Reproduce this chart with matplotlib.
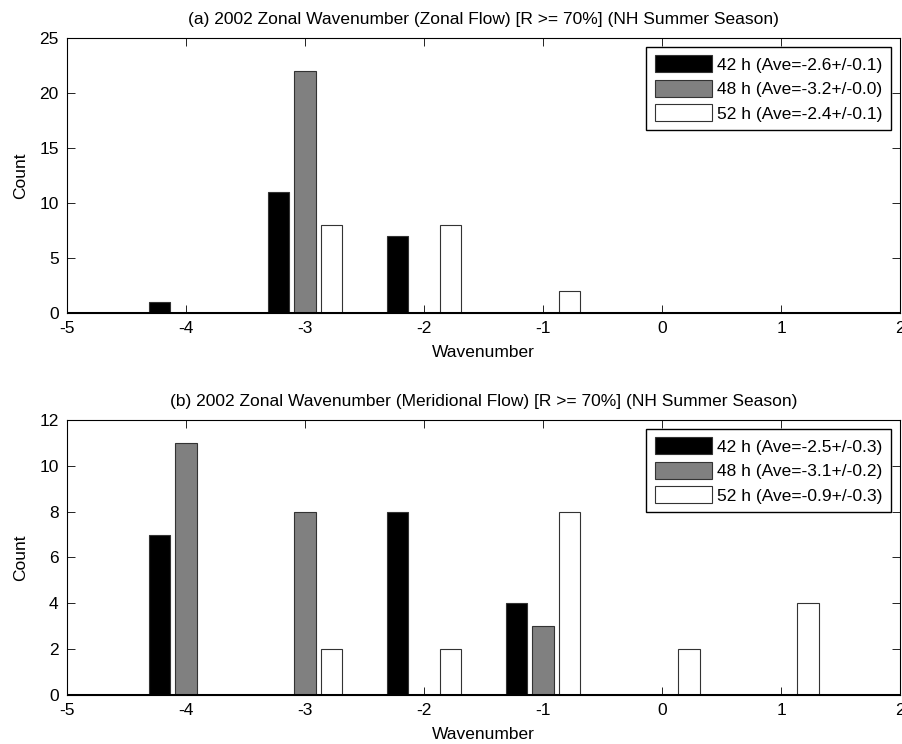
import matplotlib
matplotlib.use('Agg')
import matplotlib.pyplot as plt
import numpy as np

plt.rcParams['font.family'] = ['Liberation Sans', 'DejaVu Sans']
plt.rcParams['font.size'] = 12.5
plt.rcParams['axes.unicode_minus'] = False

wavenumbers = [-4, -3, -2, -1, 0, 1]
series_names = ['42 h', '48 h', '52 h']
colors = ['black', '#808080', 'white']

# panel (a) zonal flow
counts_a = [[1, 11, 7, 0, 0, 0],
            [0, 22, 0, 0, 0, 0],
            [0, 8, 8, 2, 0, 0]]
aves_a = ['(Ave=-2.6+/-0.1)', '(Ave=-3.2+/-0.0)', '(Ave=-2.4+/-0.1)']
title_a = '(a) 2002 Zonal Wavenumber (Zonal Flow) [R >= 70%] (NH Summer Season)'

# panel (b) meridional flow
counts_b = [[7, 0, 8, 4, 0, 0],
            [11, 8, 0, 3, 0, 0],
            [0, 2, 2, 8, 2, 4]]
aves_b = ['(Ave=-2.5+/-0.3)', '(Ave=-3.1+/-0.2)', '(Ave=-0.9+/-0.3)']
title_b = '(b) 2002 Zonal Wavenumber (Meridional Flow) [R >= 70%] (NH Summer Season)'

offsets = [-0.225, 0.0, 0.225]
width = 0.18


def draw_panel(ax, counts, aves, title, ymax, ystep):
    x = np.array(wavenumbers, dtype=float)
    for i in range(3):
        ax.bar(x + offsets[i], counts[i], width=width, color=colors[i],
               edgecolor='#333333', linewidth=0.8,
               label=f'{series_names[i]} {aves[i]}', zorder=2)
    ax.axhline(0, color='black', lw=2.2, zorder=3)
    ax.set_xlim(-5, 2)
    ax.set_ylim(0, ymax)
    ax.set_xticks(range(-5, 3))
    ax.set_yticks(np.arange(0, ymax + 0.1, ystep))
    ax.tick_params(direction='in', top=True, right=True, length=6, width=0.6,
                   pad=6)
    ax.set_xlabel('Wavenumber', labelpad=6)
    ax.set_ylabel('Count', labelpad=8)
    ax.set_title(title, fontsize=12.5, pad=10)
    for s in ax.spines.values():
        s.set_linewidth(0.8)
    leg = ax.legend(loc='upper right', fancybox=False, framealpha=1,
                    edgecolor='black', handlelength=3.3, handleheight=1.1,
                    borderpad=0.5, labelspacing=0.42, handletextpad=0.3,
                    fontsize=12.5, borderaxespad=0.5)
    leg.get_frame().set_linewidth(1.0)


fig = plt.figure(figsize=(9.03, 7.44), dpi=100)
ax1 = fig.add_axes([0.0742, 0.5793, 0.9225, 0.3696])
ax2 = fig.add_axes([0.0742, 0.0659, 0.9225, 0.3696])

draw_panel(ax1, counts_a, aves_a, title_a, 25, 5)
draw_panel(ax2, counts_b, aves_b, title_b, 12, 2)

fig.savefig('out.png', dpi=100)
